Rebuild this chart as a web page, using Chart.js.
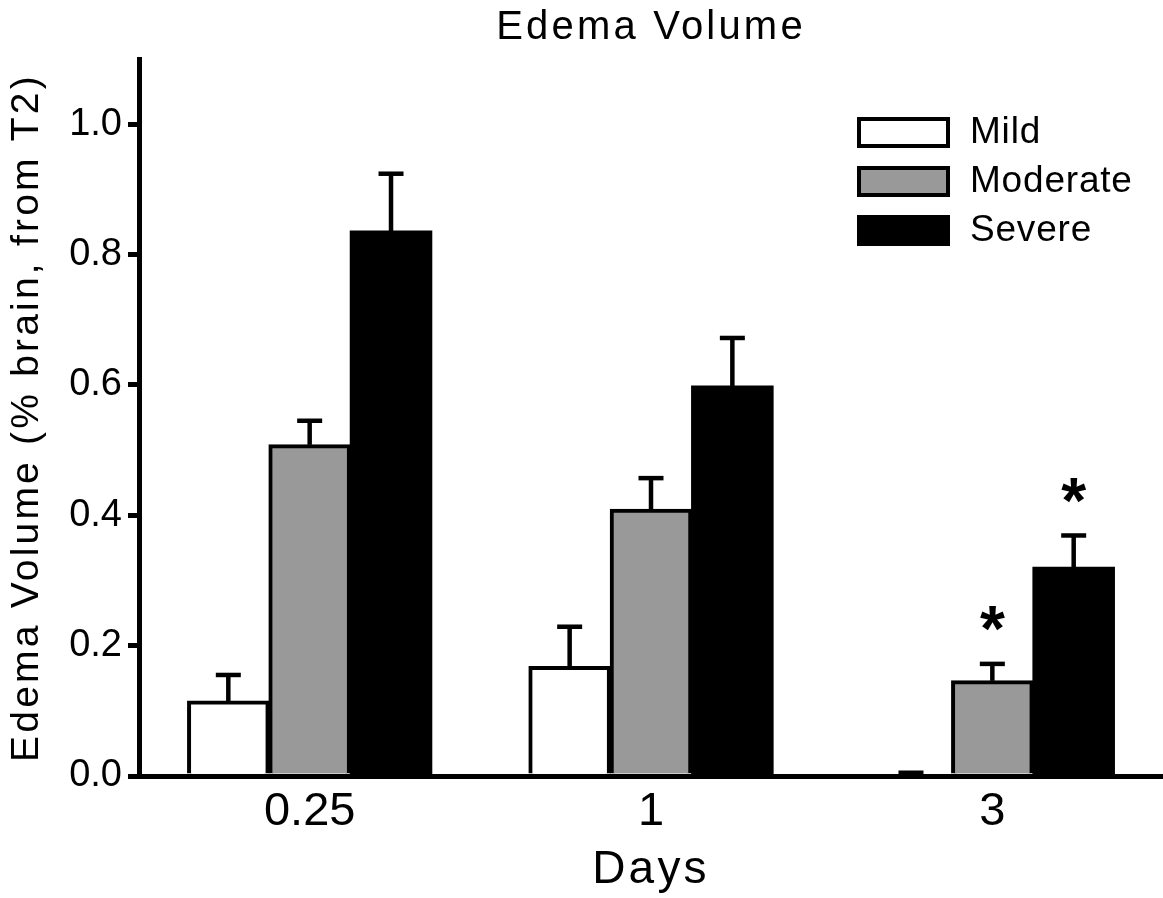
<!DOCTYPE html>
<html><head><meta charset="utf-8">
<script src="https://cdn.jsdelivr.net/npm/chart.js@4/dist/chart.umd.min.js"></script>
<style>html,body{margin:0;padding:0;background:#fff;overflow:hidden}</style>
</head><body>
<canvas id="c" width="1163" height="898"></canvas>
<script>
// ---- data ----
const categories = ['0.25', '1', '3'];
const seriesNames = ['Mild', 'Moderate', 'Severe'];
const mildValues = [0.115, 0.168, 0.0];
const mildErrors = [0.040, 0.061, 0.005];
const moderateValues = [0.508, 0.409, 0.146];
const moderateErrors = [0.037, 0.048, 0.026];
const severeValues = [0.836, 0.598, 0.320];
const severeErrors = [0.088, 0.074, 0.049];
const mildMarks = ['', '', ''];
const moderateMarks = ['', '', '*'];
const severeMarks = ['', '', '*'];
const yTickValues = [0, 0.2, 0.4, 0.6, 0.8, 1.0];
const yMax = 1.1;
const chartTitle = 'Edema Volume';
const xTitle = 'Days';
const yTitle = 'Edema Volume (% brain, from T2)';

const FONT = "'Liberation Sans', Arial, Helvetica, sans-serif";

// wider tracking for the titles (drawn before datasets), normal afterwards
const trackingPlugin = {
  id: 'tracking',
  beforeDraw(chart) { chart.ctx.letterSpacing = '3.2px'; },
  beforeDatasetsDraw(chart) { chart.ctx.letterSpacing = '0px'; }
};

const errorBarPlugin = {
  id: 'errorBars',
  afterDatasetsDraw(chart) {
    const ctx = chart.ctx;
    const ys = chart.scales.y;
    chart.data.datasets.forEach((ds, di) => {
      const meta = chart.getDatasetMeta(di);
      meta.data.forEach((bar, i) => {
        const v = ds.data[i];
        const err = ds.errors[i];
        const yBase = ys.getPixelForValue(v);
        const yTop = ys.getPixelForValue(v + err);
        ctx.save();
        ctx.strokeStyle = '#000';
        ctx.lineWidth = 4.5;
        if (err > 0) {
          ctx.beginPath();
          ctx.moveTo(bar.x, yBase);
          ctx.lineTo(bar.x, yTop);
          ctx.stroke();
          ctx.beginPath();
          ctx.moveTo(bar.x - 12.5, yTop);
          ctx.lineTo(bar.x + 12.5, yTop);
          ctx.stroke();
        }
        const mark = ds.marks[i];
        if (mark) {
          ctx.font = 'bold 64px ' + FONT;
          ctx.fillStyle = '#000';
          ctx.textAlign = 'center';
          ctx.textBaseline = 'alphabetic';
          const m = ctx.measureText(mark);
          const targetY = yTop - 45;
          const base = targetY - (m.actualBoundingBoxDescent - m.actualBoundingBoxAscent) / 2;
          ctx.fillText(mark, bar.x, base);
        }
        ctx.restore();
      });
    });
  }
};

const boxLegendPlugin = {
  id: 'boxLegend',
  afterDraw(chart, args, opts) {
    const ctx = chart.ctx;
    ctx.save();
    ctx.letterSpacing = '0.8px';
    chart.data.datasets.forEach((ds, i) => {
      const x = opts.x, y = opts.y + i * opts.rowGap;
      ctx.fillStyle = ds.backgroundColor;
      ctx.fillRect(x, y, opts.boxW, opts.boxH);
      ctx.lineWidth = 4;
      ctx.strokeStyle = '#000';
      ctx.strokeRect(x + 2, y + 2, opts.boxW - 4, opts.boxH - 4);
      ctx.fillStyle = '#000';
      ctx.font = opts.fontSize + 'px ' + FONT;
      ctx.textAlign = 'left';
      ctx.textBaseline = 'middle';
      ctx.fillText(ds.label, opts.textX, y + opts.boxH / 2);
    });
    ctx.restore();
  }
};

const datasets = [
  { label: seriesNames[0], data: mildValues, errors: mildErrors, marks: mildMarks,
    backgroundColor: '#ffffff', borderColor: '#000000', borderWidth: 4 },
  { label: seriesNames[1], data: moderateValues, errors: moderateErrors, marks: moderateMarks,
    backgroundColor: '#999999', borderColor: '#000000', borderWidth: 4 },
  { label: seriesNames[2], data: severeValues, errors: severeErrors, marks: severeMarks,
    backgroundColor: '#000000', borderColor: '#000000', borderWidth: 0 }
];

new Chart(document.getElementById('c'), {
  type: 'bar',
  data: { labels: categories, datasets },
  plugins: [trackingPlugin, errorBarPlugin, boxLegendPlugin],
  options: {
    responsive: false,
    animation: false,
    devicePixelRatio: 1,
    layout: { padding: 0 },
    datasets: { bar: { categoryPercentage: 0.715, barPercentage: 1.0, inflateAmount: 0.6 } },
    plugins: {
      legend: { display: false },
      tooltip: { enabled: false },
      title: {
        display: true, text: chartTitle, color: '#000', fullSize: false,
        font: { family: FONT, size: 40, weight: 'normal', lineHeight: 1.2 },
        padding: { top: 4, bottom: 7 }
      },
      boxLegend: { x: 857, y: 117, boxW: 93, boxH: 31, rowGap: 49, textX: 970, fontSize: 37 }
    },
    scales: {
      x: {
        grid: { display: false, drawTicks: false, z: -1 },
        border: { display: true, color: '#000', width: 5, z: 1 },
        ticks: { z: 1, color: '#000', padding: 7.5, font: { family: FONT, size: 47, lineHeight: 1.2 } },
        title: { display: true, text: xTitle, color: '#000', padding: { top: 0, bottom: 0 },
          font: { family: FONT, size: 46, lineHeight: 1.2 } },
        afterFit(s) { s.height = 122; }
      },
      y: {
        min: 0, max: yMax,
        grid: { display: true, drawOnChartArea: false, drawTicks: true, tickLength: 11, lineWidth: 5, color: '#000', z: -1 },
        border: { display: true, color: '#000', width: 5, z: 1 },
        ticks: { z: 1, color: '#000', padding: 6, font: { family: FONT, size: 38, lineHeight: 1.2 },
          callback: v => Number(v).toFixed(1) },
        afterBuildTicks(s) { s.ticks = yTickValues.map(v => ({ value: v })); },
        title: { display: true, text: yTitle, color: '#000', padding: { top: 4, bottom: 0 },
          font: { family: FONT, size: 39, lineHeight: 1.2 } },
        afterFit(s) { s.width = 139; }
      }
    }
  }
});
</script>
</body></html>
